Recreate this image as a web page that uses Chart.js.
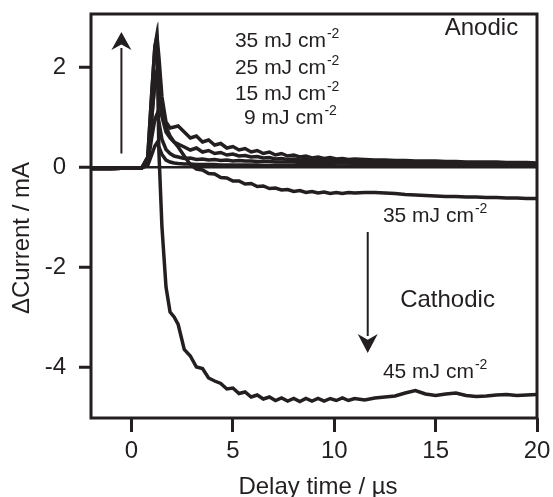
<!DOCTYPE html>
<html lang="en">
<head>
    <meta charset="UTF-8">
    <title>Delta current vs delay time</title>
    <script src="https://cdn.jsdelivr.net/npm/chart.js"></script>
    <style>
        body {
            margin: 0;
            background: #fff;
        }

        canvas {
            display: block;
        }
    </style>
</head>
<body>
    <canvas id="transientChart" width="553" height="497"></canvas>

    <script>
        // delay time (µs), shared by all traces
        const delayTime = [-2, -1, 0, 0.5,
            0.8, 1.0, 1.15, 1.25, 1.35, 1.5,
            1.7, 1.9, 2.1, 2.3, 2.6, 2.9,
            3.2, 3.5, 3.8, 4.1, 4.4, 4.7,
            5.0, 5.3, 5.6, 5.9, 6.2, 6.5,
            6.8, 7.1, 7.4, 7.7, 8.0, 8.3,
            8.6, 8.9, 9.2, 9.5, 9.8, 10.1,
            10.4, 10.7, 11, 11.5, 12, 12.5,
            13, 13.5, 14, 14.5, 15, 15.5,
            16, 16.5, 17, 17.5, 18, 18.5,
            19, 19.5, 20];

        // delta current (mA)
        const anodic35 = [-0.03, -0.03, -0.02, -0.02,
            0.2, 1.5, 2.4, 2.64, 2.2, 1.4,
            0.9, 0.78, 0.8, 0.82, 0.7, 0.58,
            0.62, 0.5, 0.54, 0.44, 0.47, 0.38,
            0.41, 0.34, 0.37, 0.3, 0.33, 0.27,
            0.3, 0.24, 0.27, 0.22, 0.24, 0.2,
            0.22, 0.18, 0.2, 0.17, 0.19, 0.16,
            0.17, 0.15, 0.16, 0.15, 0.14, 0.14,
            0.13, 0.13, 0.12, 0.12, 0.12, 0.11,
            0.11, 0.1, 0.1, 0.1, 0.1, 0.09,
            0.09, 0.09, 0.08];

        const anodic25 = [-0.03, -0.03, -0.02, -0.02,
            0.12, 1.0, 1.7, 1.9, 1.6, 1.0,
            0.7, 0.58, 0.5, 0.46, 0.4, 0.34,
            0.38, 0.3, 0.33, 0.27, 0.29, 0.24,
            0.26, 0.22, 0.23, 0.2, 0.21, 0.18,
            0.19, 0.16, 0.17, 0.15, 0.16, 0.14,
            0.15, 0.13, 0.14, 0.12, 0.13, 0.12,
            0.12, 0.11, 0.11, 0.1, 0.1, 0.1,
            0.09, 0.09, 0.09, 0.08, 0.08, 0.08,
            0.08, 0.07, 0.07, 0.07, 0.07, 0.06,
            0.06, 0.06, 0.06];

        const anodic15 = [-0.03, -0.03, -0.02, -0.02,
            0.06, 0.6, 0.95, 1.05, 0.9, 0.55,
            0.35, 0.27, 0.22, 0.2, 0.17, 0.18,
            0.15, 0.16, 0.14, 0.15, 0.13, 0.14,
            0.12, 0.13, 0.12, 0.12, 0.11, 0.11,
            0.11, 0.1, 0.1, 0.1, 0.1, 0.09,
            0.09, 0.09, 0.09, 0.08, 0.08, 0.08,
            0.08, 0.08, 0.07, 0.07, 0.07, 0.07,
            0.07, 0.06, 0.06, 0.06, 0.06, 0.06,
            0.05, 0.05, 0.05, 0.05, 0.05, 0.05,
            0.04, 0.04, 0.04];

        const anodic9 = [-0.03, -0.03, -0.02, -0.02,
            0.03, 0.25, 0.42, 0.48, 0.4, 0.25,
            0.14, 0.1, 0.08, 0.07, 0.06, 0.06,
            0.05, 0.05, 0.05, 0.05, 0.04, 0.04,
            0.04, 0.04, 0.04, 0.04, 0.04, 0.03,
            0.03, 0.03, 0.03, 0.03, 0.03, 0.03,
            0.03, 0.03, 0.03, 0.03, 0.03, 0.02,
            0.02, 0.02, 0.02, 0.02, 0.02, 0.02,
            0.02, 0.02, 0.02, 0.02, 0.02, 0.02,
            0.02, 0.02, 0.02, 0.02, 0.02, 0.02,
            0.02, 0.02, 0.02];

        const cathodic35 = [-0.03, -0.03, -0.02, -0.02,
            0.12, 1.0, 1.7, 1.9, 1.6, 1.1,
            0.8, 0.62, 0.5, 0.4, 0.22, 0.05,
            -0.04, -0.06, -0.13, -0.14, -0.21, -0.22,
            -0.28, -0.28, -0.34, -0.33, -0.39, -0.38,
            -0.43, -0.42, -0.46, -0.45, -0.49, -0.47,
            -0.51, -0.49, -0.52, -0.5, -0.53, -0.51,
            -0.53, -0.51, -0.52, -0.51, -0.51, -0.52,
            -0.53, -0.55, -0.56, -0.57, -0.58, -0.59,
            -0.59, -0.6, -0.6, -0.61, -0.61, -0.62,
            -0.62, -0.63, -0.63];

        const cathodic45 = [-0.03, -0.03, -0.02, -0.02,
            0.2, 1.5, 2.4, 2.6, 0.3, -1.2,
            -2.4, -2.9, -3.0, -3.15, -3.65, -3.78,
            -4.0, -4.03, -4.22, -4.28, -4.33, -4.44,
            -4.42, -4.53, -4.5, -4.6, -4.56, -4.64,
            -4.6, -4.67, -4.62, -4.68, -4.63, -4.69,
            -4.63, -4.68, -4.63, -4.68, -4.63, -4.67,
            -4.62, -4.67, -4.63, -4.66, -4.62, -4.6,
            -4.58, -4.52, -4.47, -4.54, -4.57, -4.54,
            -4.52, -4.57, -4.59, -4.58, -4.56, -4.55,
            -4.57, -4.56, -4.55];

        const xTicks = [0, 5, 10, 15, 20];
        const yTicks = [-4, -2, 0, 2];

        const INK = '#231f20';
        const FONT = '"Liberation Sans", Arial, Helvetica, sans-serif';

        function toPoints(values) {
            return delayTime.map((t, i) => ({ x: t, y: values[i] }));
        }

        function trace(label, values) {
            return {
                label: label,
                data: toPoints(values),
                borderColor: INK,
                borderWidth: 3.5,
                pointRadius: 0,
                tension: 0,
                fill: false
            };
        }

        function arrow(ctx, x, y0, y1, half, head) {
            // y0 = tail, y1 = tip
            const dir = y1 < y0 ? -1 : 1;
            const base = y1 - dir * head;
            ctx.beginPath();
            ctx.moveTo(x, y0);
            ctx.lineTo(x, base + dir * 2);
            ctx.lineWidth = 2;
            ctx.stroke();
            ctx.beginPath();
            ctx.moveTo(x, y1);
            ctx.lineTo(x - half, base);
            ctx.lineTo(x, base + dir * head * 0.3);
            ctx.lineTo(x + half, base);
            ctx.closePath();
            ctx.fill();
        }

        function fluence(ctx, x, y, main) {
            ctx.font = '21px ' + FONT;
            ctx.textAlign = 'left';
            ctx.textBaseline = 'middle';
            ctx.fillText(main, x, y);
            const w = ctx.measureText(main).width;
            ctx.font = '14px ' + FONT;
            ctx.fillText('-2', x + w + 1, y - 7);
        }

        // keep the plot box where the reference has it
        function noScalePadding(scale) {
            scale.paddingTop = 0;
            scale.paddingBottom = 0;
            scale.paddingLeft = 0;
            scale.paddingRight = 0;
        }

        const annotations = {
            id: 'annotations',
            afterDraw(chart) {
                const ctx = chart.ctx;
                const a = chart.chartArea;
                const xs = chart.scales.x;
                const ys = chart.scales.y;
                const px = v => xs.getPixelForValue(v);
                const py = v => ys.getPixelForValue(v);

                ctx.save();
                ctx.strokeStyle = INK;
                ctx.fillStyle = INK;
                ctx.lineWidth = 3;
                ctx.strokeRect(a.left, a.top, a.right - a.left, a.bottom - a.top);

                fluence(ctx, px(5.1), py(2.52), '35 mJ cm');
                fluence(ctx, px(5.1), py(1.98), '25 mJ cm');
                fluence(ctx, px(5.1), py(1.46), '15 mJ cm');
                fluence(ctx, px(5.55), py(0.98), '9 mJ cm');
                fluence(ctx, px(12.4), py(-0.98), '35 mJ cm');
                fluence(ctx, px(12.4), py(-4.1), '45 mJ cm');

                ctx.font = '24px ' + FONT;
                ctx.textAlign = 'left';
                ctx.textBaseline = 'middle';
                ctx.fillText('Anodic', px(15.45), py(2.78));
                ctx.fillText('Cathodic', px(13.25), py(-2.66));

                arrow(ctx, px(-0.5), py(0.27), py(2.7), 10, 18);
                arrow(ctx, px(11.65), py(-1.3), py(-3.72), 10, 19);

                // axis titles
                ctx.font = '24px ' + FONT;
                ctx.textAlign = 'center';
                ctx.textBaseline = 'middle';
                ctx.fillText('Delay time / \u00b5s', (a.left + a.right) / 2 + 4, 487);
                ctx.translate(22, 238);
                ctx.rotate(-Math.PI / 2);
                ctx.fillText('\u0394Current / mA', 0, 0);
                ctx.restore();
            }
        };

        const ctx = document.getElementById('transientChart').getContext('2d');
        const transientChart = new Chart(ctx, {
            type: 'line',
            data: {
                datasets: [
                    trace('35 mJ cm-2 (anodic)', anodic35),
                    trace('25 mJ cm-2', anodic25),
                    trace('15 mJ cm-2', anodic15),
                    trace('9 mJ cm-2', anodic9),
                    trace('35 mJ cm-2 (cathodic)', cathodic35),
                    trace('45 mJ cm-2', cathodic45)
                ]
            },
            options: {
                responsive: false,
                animation: false,
                layout: {
                    padding: { top: 14, right: 16, left: 0, bottom: 0 }
                },
                plugins: {
                    legend: { display: false },
                    tooltip: { enabled: false }
                },
                scales: {
                    x: {
                        type: 'linear',
                        min: -2,
                        max: 20,
                        afterBuildTicks: scale => {
                            scale.ticks = xTicks.map(v => ({ value: v }));
                        },
                        afterFit: scale => {
                            scale.height = 79;
                            noScalePadding(scale);
                        },
                        border: { display: false },
                        grid: {
                            drawOnChartArea: false,
                            tickLength: 14,
                            tickWidth: 3,
                            tickColor: INK
                        },
                        ticks: {
                            color: INK,
                            padding: 5,
                            maxRotation: 0,
                            font: { family: FONT, size: 24 }
                        }
                    },
                    y: {
                        min: -5.02,
                        max: 3.06,
                        afterBuildTicks: scale => {
                            scale.ticks = yTicks.map(v => ({ value: v }));
                        },
                        afterFit: scale => {
                            scale.width = 91;
                            noScalePadding(scale);
                        },
                        border: { display: false },
                        grid: {
                            color: c => (c.tick && c.tick.value === 0) ? INK : 'rgba(0,0,0,0)',
                            lineWidth: 2.5,
                            tickLength: 12,
                            tickWidth: 3,
                            tickColor: INK
                        },
                        ticks: {
                            color: INK,
                            padding: 13,
                            font: { family: FONT, size: 24 }
                        }
                    }
                }
            },
            plugins: [annotations]
        });
    </script>
</body>
</html>
